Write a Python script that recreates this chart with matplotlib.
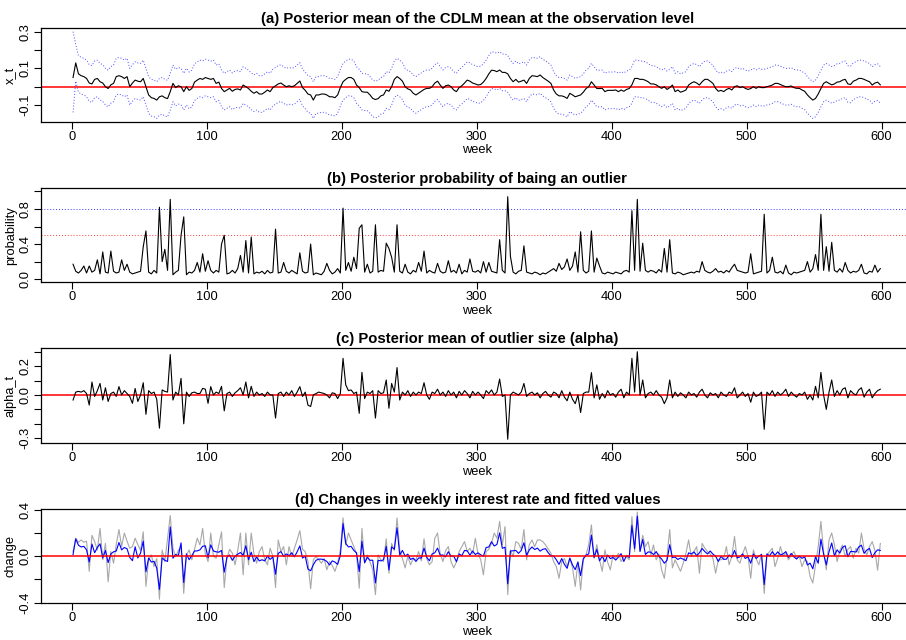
import numpy as np
import matplotlib
matplotlib.use("Agg")
import matplotlib.pyplot as plt

plt.rcParams['font.family'] = ['Liberation Sans', 'DejaVu Sans']

# weekly index (every second week of the 600-week sample)
weeks = np.arange(1, 600, 2)

# (a) posterior mean of the level x_t
xt_mean = [
    0.05, 0.13, 0.07, 0.06, 0.055, 0.045, 0.02, 0.015, 0.04, 0.045,
    0.027, 0.02, 0.0, -0.01, 0.01, 0.018, 0.055, 0.06, 0.055, 0.045,
    0.055, 0.0, 0.02, 0.036, 0.03, 0.027, 0.045, 0.0, -0.045, -0.06,
    -0.064, -0.073, -0.055, -0.05, -0.06, -0.065, -0.027, 0.018, -0.005, 0.005,
    0.0, -0.027, 0.0, -0.02, -0.01, 0.025, 0.036, 0.045, 0.04, 0.05,
    0.045, 0.04, 0.045, 0.018, 0.025, -0.01, -0.027, -0.018, -0.009, -0.025,
    -0.015, -0.012, -0.018, 0.009, 0.0, -0.01, -0.025, -0.036, -0.027, -0.04,
    -0.04, -0.03, -0.018, -0.027, -0.005, 0.005, 0.015, 0.02, 0.009, 0.0,
    0.005, 0.0, 0.005, 0.018, 0.031, -0.005, -0.02, -0.04, -0.045, -0.073,
    -0.045, -0.045, -0.04, -0.04, -0.045, -0.055, -0.055, -0.06, -0.045, -0.005,
    0.027, 0.04, 0.05, 0.05, 0.04, 0.009, -0.005, -0.027, -0.03, -0.03,
    -0.045, -0.064, -0.07, -0.065, -0.05, -0.045, -0.018, -0.025, 0.0, 0.04,
    0.055, 0.045, 0.03, 0.0, -0.012, -0.018, -0.036, -0.045, -0.035, -0.025,
    -0.015, -0.009, -0.009, 0.0, 0.02, 0.03, 0.009, -0.009, 0.005, 0.009,
    0.0, -0.018, -0.027, -0.005, 0.005, 0.02, 0.036, 0.03, 0.02, 0.015,
    0.009, 0.012, 0.025, 0.045, 0.07, 0.09, 0.088, 0.082, 0.091, 0.078,
    0.078, 0.07, 0.045, 0.027, 0.04, 0.025, 0.03, 0.036, 0.018, 0.045,
    0.06, 0.058, 0.055, 0.064, 0.05, 0.04, 0.03, 0.018, -0.018, -0.04,
    -0.05, -0.05, -0.055, -0.064, -0.036, -0.045, -0.055, -0.05, -0.045, -0.03,
    -0.01, 0.0, 0.027, 0.009, -0.01, -0.01, -0.009, -0.027, -0.02, -0.02,
    -0.02, -0.018, -0.027, -0.018, -0.025, -0.015, -0.01, 0.01, 0.045, 0.045,
    0.04, 0.04, 0.035, 0.027, 0.015, 0.015, 0.01, 0.0, -0.009, 0.0,
    -0.015, -0.005, 0.009, -0.027, -0.018, -0.03, -0.025, -0.018, 0.009, 0.02,
    0.027, 0.02, 0.009, 0.027, 0.04, 0.04, 0.03, 0.018, -0.009, -0.025,
    -0.02, -0.027, -0.015, -0.009, -0.018, 0.0, 0.005, -0.005, 0.0, -0.009,
    -0.015, -0.01, 0.0, -0.009, 0.0, -0.005, -0.005, 0.0, 0.004, 0.009,
    0.018, 0.018, 0.012, 0.005, 0.0, 0.0, 0.004, -0.005, -0.009, -0.009,
    -0.018, -0.025, -0.045, -0.06, -0.073, -0.064, -0.04, -0.01, 0.018, 0.027,
    0.018, 0.01, 0.015, 0.025, 0.027, 0.036, 0.04, 0.015, 0.012, 0.03,
    0.036, 0.045, 0.045, 0.04, 0.033, 0.027, 0.009, 0.02, 0.025, 0.01,
]

# distance from x_t to the upper / lower interval limits
band_upper_start = [0.25, 0.1]
band_lower_start = [0.19, 0.1]
band_halfwidth_steady = 0.1

# (b) posterior probability of an outlier
outlier_prob = [
    0.17, 0.09, 0.07, 0.1, 0.15, 0.07, 0.15, 0.08, 0.1, 0.22,
    0.06, 0.31, 0.08, 0.07, 0.32, 0.09, 0.07, 0.08, 0.22, 0.1,
    0.17, 0.08, 0.06, 0.07, 0.08, 0.09, 0.37, 0.55, 0.08, 0.06,
    0.1, 0.07, 0.82, 0.2, 0.34, 0.1, 0.91, 0.05, 0.08, 0.1,
    0.5, 0.71, 0.05, 0.08, 0.07, 0.1, 0.19, 0.08, 0.29, 0.09,
    0.21, 0.1, 0.07, 0.1, 0.08, 0.4, 0.5, 0.06, 0.07, 0.1,
    0.07, 0.12, 0.27, 0.08, 0.44, 0.07, 0.48, 0.06, 0.08, 0.07,
    0.09, 0.06, 0.1, 0.07, 0.08, 0.57, 0.07, 0.08, 0.19, 0.09,
    0.07, 0.1, 0.08, 0.06, 0.3, 0.09, 0.07, 0.08, 0.4, 0.05,
    0.07, 0.06, 0.05, 0.09, 0.18, 0.1, 0.06, 0.08, 0.12, 0.07,
    0.81, 0.1, 0.19, 0.09, 0.25, 0.12, 0.58, 0.62, 0.08, 0.17,
    0.07, 0.09, 0.62, 0.08, 0.1, 0.09, 0.41, 0.35, 0.25, 0.08,
    0.62, 0.09, 0.07, 0.17, 0.08, 0.06, 0.1, 0.08, 0.19, 0.09,
    0.32, 0.07, 0.1, 0.08, 0.07, 0.18, 0.09, 0.07, 0.08, 0.21,
    0.08, 0.1, 0.07, 0.17, 0.06, 0.1, 0.08, 0.23, 0.09, 0.08,
    0.1, 0.07, 0.2, 0.08, 0.19, 0.09, 0.08, 0.07, 0.45, 0.1,
    0.07, 0.94, 0.26, 0.08, 0.06, 0.09, 0.1, 0.38, 0.08, 0.07,
    0.06, 0.08, 0.07, 0.05, 0.07, 0.06, 0.08, 0.1, 0.12, 0.09,
    0.18, 0.11, 0.14, 0.23, 0.1, 0.15, 0.31, 0.08, 0.54, 0.1,
    0.07, 0.09, 0.55, 0.08, 0.24, 0.15, 0.07, 0.06, 0.08, 0.07,
    0.06, 0.08, 0.07, 0.06, 0.09, 0.1, 0.08, 0.78, 0.1, 0.91,
    0.09, 0.41, 0.1, 0.08, 0.1, 0.09, 0.07, 0.11, 0.08, 0.35,
    0.08, 0.45, 0.07, 0.06, 0.08, 0.07, 0.05, 0.06, 0.07, 0.08,
    0.07, 0.09, 0.08, 0.2, 0.1, 0.08, 0.07, 0.09, 0.12, 0.08,
    0.09, 0.07, 0.1, 0.08, 0.13, 0.17, 0.1, 0.09, 0.08, 0.07,
    0.08, 0.29, 0.06, 0.07, 0.08, 0.09, 0.74, 0.07, 0.1, 0.25,
    0.08, 0.07, 0.09, 0.06, 0.16, 0.07, 0.05, 0.08, 0.07, 0.08,
    0.09, 0.1, 0.2, 0.08, 0.12, 0.28, 0.1, 0.74, 0.1, 0.37,
    0.09, 0.42, 0.1, 0.08, 0.12, 0.08, 0.19, 0.1, 0.07, 0.09,
    0.08, 0.1, 0.17, 0.07, 0.06, 0.09, 0.08, 0.16, 0.08, 0.12,
]
prob_guides = [0.8, 0.5]
prob_guide_colors = ['#3b3bff', '#ff3b3b']

# (c) posterior mean of the outlier size alpha_t
alpha_mean = [
    -0.035, 0.02, 0.025, 0.02, 0.03, 0.01, -0.07, 0.09, -0.01, 0.03,
    0.08, -0.035, 0.05, -0.045, 0.01, 0.02, -0.01, 0.058, 0.0, 0.03,
    0.01, -0.01, -0.058, 0.045, -0.045, 0.0, 0.085, -0.134, 0.03, 0.01,
    0.02, -0.03, -0.23, 0.035, 0.025, 0.02, 0.28, -0.035, 0.02, 0.0,
    0.115, -0.2, 0.02, -0.01, 0.015, 0.02, 0.01, 0.01, 0.046, 0.04,
    -0.058, 0.058, 0.0, 0.02, 0.01, 0.06, -0.11, 0.01, 0.02, -0.01,
    0.015, 0.03, 0.05, 0.0, 0.09, -0.02, 0.06, -0.01, 0.02, 0.0,
    0.01, -0.01, 0.02, 0.0, 0.0, -0.16, 0.01, 0.02, -0.01, 0.02,
    0.0, 0.03, -0.01, 0.02, 0.058, -0.01, 0.02, -0.07, -0.08, 0.0,
    0.01, 0.02, 0.015, 0.01, 0.0, -0.02, 0.015, 0.01, -0.025, 0.01,
    0.254, 0.07, 0.03, 0.035, 0.01, 0.02, -0.127, 0.157, -0.025, 0.02,
    0.01, 0.03, -0.16, 0.03, 0.01, 0.015, 0.104, -0.092, 0.08, 0.02,
    0.19, -0.035, 0.02, 0.0, 0.03, -0.01, 0.02, 0.0, 0.02, 0.01,
    0.085, 0.0, -0.03, 0.02, 0.01, 0.04, 0.0, 0.02, -0.01, 0.03,
    0.0, 0.02, -0.02, 0.025, 0.0, 0.03, 0.01, -0.02, 0.025, 0.0,
    0.02, 0.0, -0.025, 0.03, 0.01, 0.035, 0.0, 0.02, 0.11, -0.01,
    0.0, -0.307, 0.0, 0.02, 0.01, 0.0, 0.02, 0.08, -0.01, 0.01,
    0.02, 0.0, 0.015, -0.02, 0.01, 0.025, 0.0, -0.015, 0.02, 0.01,
    -0.02, 0.03, -0.015, -0.04, 0.02, -0.03, -0.06, 0.0, -0.122, 0.01,
    0.02, 0.02, 0.155, -0.02, 0.07, -0.03, 0.01, -0.02, 0.03, 0.0,
    0.01, -0.015, 0.02, 0.04, -0.02, 0.02, 0.0, 0.254, 0.02, 0.30,
    0.0, 0.104, -0.02, 0.01, 0.02, 0.0, 0.03, 0.0, -0.015, -0.06,
    -0.02, 0.104, -0.02, 0.02, -0.01, 0.015, 0.0, -0.02, 0.02, 0.0,
    0.01, -0.015, 0.02, 0.04, 0.0, -0.02, 0.015, 0.0, 0.01, -0.02,
    0.02, 0.0, -0.01, 0.02, 0.01, 0.05, -0.02, 0.0, 0.02, -0.01,
    0.01, -0.05, 0.02, -0.01, 0.0, 0.02, -0.238, 0.02, 0.0, 0.03,
    -0.01, 0.02, 0.0, 0.015, 0.04, -0.01, 0.02, 0.0, -0.015, 0.01,
    0.0, 0.02, -0.03, 0.0, -0.035, 0.06, -0.02, 0.157, 0.0, -0.1,
    0.02, 0.104, -0.01, 0.03, 0.0, 0.04, 0.05, -0.02, 0.03, 0.01,
    0.0, 0.035, 0.05, -0.015, 0.02, 0.04, -0.02, 0.01, 0.03, 0.04,
]

# (d) observed weekly change in the interest rate
rate_change = [
    0.04, 0.155, 0.12, 0.14, 0.12, 0.13, -0.13, 0.18, 0.126, 0.054,
    0.24, -0.03, 0.11, -0.22, 0.04, -0.06, 0.1, 0.23, 0.083, 0.2,
    0.13, 0.069, 0.083, 0.155, 0.1, 0.05, 0.21, -0.26, -0.03, 0.011,
    -0.089, -0.02, -0.37, 0.054, -0.046, 0.155, 0.35, 0.069, -0.003, 0.05,
    0.08, -0.32, 0.011, 0.054, -0.031, 0.06, 0.155, 0.097, 0.24, 0.02,
    -0.046, 0.2, 0.0, -0.017, 0.1, 0.21, -0.27, -0.017, 0.06, 0.026,
    -0.074, 0.05, 0.2, -0.16, 0.2, -0.074, 0.2, 0.02, -0.06, 0.04,
    0.083, -0.03, -0.074, 0.069, 0.0, -0.27, 0.14, 0.04, 0.083, -0.074,
    0.083, -0.003, 0.07, 0.14, 0.22, 0.06, 0.04, -0.046, -0.28, -0.031,
    -0.003, -0.03, -0.06, -0.02, -0.117, -0.046, -0.08, -0.13, -0.06, 0.05,
    0.33, 0.097, 0.2, 0.14, 0.083, 0.02, -0.275, 0.24, -0.06, 0.011,
    -0.05, -0.117, -0.33, 0.011, -0.03, -0.046, 0.15, -0.146, 0.11, 0.05,
    0.33, 0.054, -0.02, -0.1, 0.0, -0.074, -0.02, -0.031, 0.04, -0.04,
    0.15, -0.02, -0.074, -0.046, 0.155, 0.2, 0.02, -0.046, 0.05, 0.083,
    -0.046, -0.1, -0.05, 0.04, 0.083, 0.126, 0.04, 0.069, 0.02, 0.155,
    0.02, -0.03, -0.16, 0.04, 0.06, 0.11, 0.2, 0.155, 0.30, 0.097,
    0.255, -0.33, 0.054, -0.003, 0.126, 0.11, 0.06, 0.23, -0.031, 0.1,
    0.14, 0.083, 0.14, 0.14, 0.126, 0.097, 0.06, 0.026, -0.046, -0.089,
    -0.19, -0.046, -0.02, -0.089, -0.017, -0.1, -0.26, -0.05, -0.29, -0.031,
    0.011, 0.1, 0.27, -0.017, 0.1, -0.031, -0.13, 0.054, -0.05, -0.117,
    0.011, -0.017, 0.026, -0.046, -0.003, -0.003, -0.031, 0.34, 0.04, 0.38,
    0.054, 0.18, 0.083, 0.126, 0.011, 0.097, -0.031, 0.02, -0.117, -0.19,
    0.0, 0.23, -0.1, -0.031, -0.08, -0.13, -0.06, 0.026, 0.14, -0.003,
    0.04, 0.083, -0.146, 0.11, 0.07, 0.04, 0.02, -0.017, -0.146, -0.031,
    -0.03, -0.017, 0.083, -0.074, 0.0, 0.17, -0.031, -0.06, 0.02, 0.083,
    0.0, -0.19, 0.054, -0.02, -0.074, 0.02, -0.32, 0.011, 0.04, 0.069,
    -0.089, -0.017, 0.083, 0.0, 0.026, -0.031, 0.01, 0.04, -0.017, 0.0,
    -0.089, -0.03, -0.046, -0.175, -0.23, -0.074, 0.083, 0.30, 0.04, -0.117,
    0.14, 0.2, 0.1, -0.046, 0.05, 0.097, -0.003, 0.06, 0.083, -0.017,
    0.069, 0.026, 0.2, 0.06, 0.011, 0.083, 0.126, 0.05, -0.12, 0.11,
]

titles = [
    "(a) Posterior mean of the CDLM mean at the observation level",
    "(b) Posterior probability of baing an outlier",
    "(c) Posterior mean of outlier size (alpha)",
    "(d) Changes in weekly interest rate and fitted values",
]
ylabels = ["x_t", "probability", "alpha_t", "change"]
xticks = [0, 100, 200, 300, 400, 500, 600]

# y ticks and the labels that are printed (others stay unlabeled)
yticks = [
    ([-0.1, 0.0, 0.1, 0.2, 0.3], ["-0.1", "", "0.1", "", "0.3"]),
    ([0.0, 0.2, 0.4, 0.6, 0.8, 1.0], ["0.0", "", "0.4", "", "0.8", ""]),
    ([-0.3, -0.2, -0.1, 0.0, 0.1, 0.2, 0.3], ["-0.3", "", "", "0.0", "", "0.2", ""]),
    ([-0.4, -0.2, 0.0, 0.2, 0.4], ["-0.4", "", "0.0", "", "0.4"]),
]
ylims = [(-0.191, 0.3186), (-0.036, 1.036), (-0.335, 0.3236), (-0.405, 0.404)]

xt = np.array(xt_mean)
alpha = np.array(alpha_mean)
upper_off = np.full(len(weeks), band_halfwidth_steady)
lower_off = np.full(len(weeks), band_halfwidth_steady)
upper_off[:len(band_upper_start)] = band_upper_start
lower_off[:len(band_lower_start)] = band_lower_start
fitted = xt + alpha

W, H = 906, 640
fig = plt.figure(figsize=(W / 100, H / 100), dpi=100)

# panel boxes in pixels: (top, bottom); x range shared
boxes = [(28.3, 121.7), (188.3, 282.3), (348.3, 443.3), (509.3, 603.3)]
x_left_px, x_right_px = 40.7, 914.0
xlim = (-22.96, 623.96)

axes = []
for (top, bot) in boxes:
    ax = fig.add_axes([x_left_px / W, 1 - bot / H, (x_right_px - x_left_px) / W, (bot - top) / H])
    axes.append(ax)

ax_a, ax_b, ax_c, ax_d = axes
dotted = (0, (1, 2.0))
line_w = 0.8

# (a)
ax_a.plot(weeks, xt + upper_off, color='#4a4aff', lw=0.7, linestyle=dotted)
ax_a.plot(weeks, xt - lower_off, color='#4a4aff', lw=0.7, linestyle=dotted)
ax_a.axhline(0, color='red', lw=1.1, zorder=1)
ax_a.plot(weeks, xt, color='black', lw=line_w, zorder=3)

# (b)
for val, col in zip(prob_guides, prob_guide_colors):
    ax_b.axhline(val, color=col, lw=0.7, linestyle=dotted)
ax_b.plot(weeks, outlier_prob, color='black', lw=line_w)

# (c)
ax_c.axhline(0, color='red', lw=1.1, zorder=1)
ax_c.plot(weeks, alpha, color='black', lw=line_w, zorder=3)

# (d)
ax_d.plot(weeks, rate_change, color='#a8a8a8', lw=line_w)
ax_d.plot(weeks, fitted, color='#0000ff', lw=line_w)
ax_d.axhline(0, color='red', lw=1.1)

for ax, title, ylab, (yt, ytl), yl in zip(axes, titles, ylabels, yticks, ylims):
    ax.set_xlim(*xlim)
    ax.set_ylim(*yl)
    ax.set_xticks(xticks)
    ax.set_xticklabels([str(t) for t in xticks])
    ax.set_yticks(yt)
    ax.set_yticklabels(ytl, rotation=90, va='center')
    ax.tick_params(axis='both', direction='out', length=5, width=0.8,
                   labelsize=9.3, pad=1.5, colors='black')
    for sp in ax.spines.values():
        sp.set_linewidth(0.9)
        sp.set_color('black')
    ax.set_title(title, fontsize=10.7, fontweight='bold', pad=3.5)
    ax.set_xlabel("week", fontsize=9.3, labelpad=1)
    ax.set_ylabel(ylab, fontsize=9.3, labelpad=2)

fig.savefig("out.png", dpi=100)
